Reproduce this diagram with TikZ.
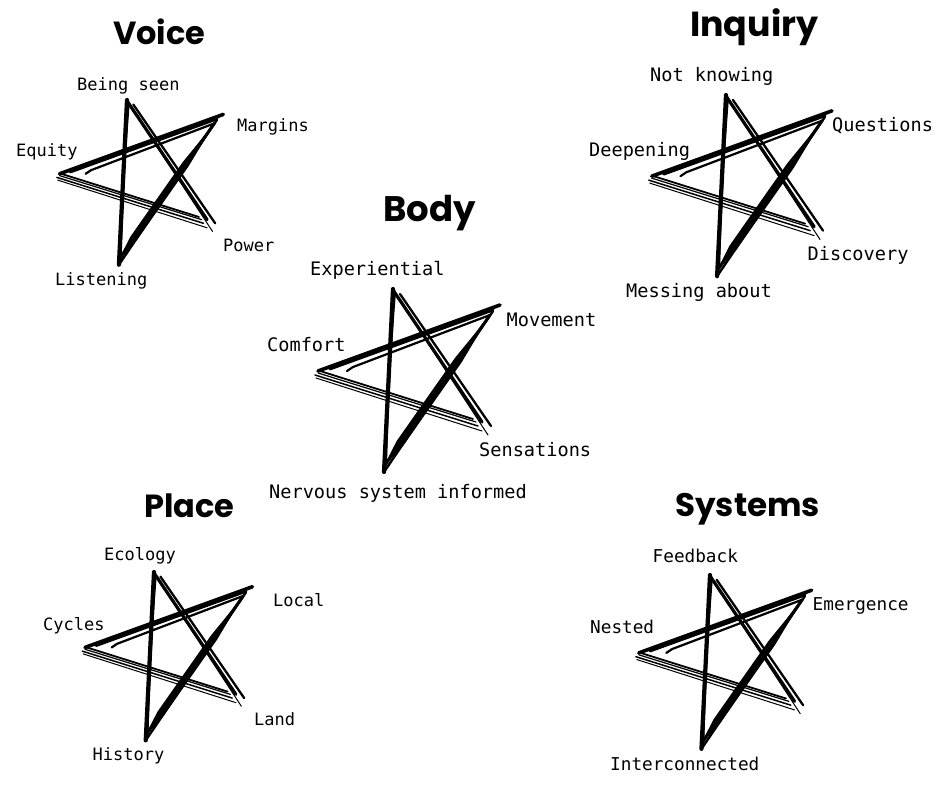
\documentclass[tikz,border=0pt]{standalone}
\usepackage{fontspec}
\setmonofont{DejaVu Sans Mono}
\newfontfamily\headfont{Poppins}
\usepackage{tikz}

\tikzset{
  heading/.style={font=\headfont\bfseries\fontsize{#1}{40}\selectfont, anchor=base west, inner sep=0pt},
  tag/.style={font=\ttfamily\fontsize{17}{20}\selectfont, anchor=base west, inner sep=0pt},
  bigtag/.style={font=\ttfamily\fontsize{18.6}{22}\selectfont, anchor=base west, inner sep=0pt},
  midtag/.style={font=\ttfamily\fontsize{17.7}{21}\selectfont, anchor=base west, inner sep=0pt},
  pics/sketchstar/.style={code={
    % the five tips
    \coordinate (-t) at (0,0);
    \coordinate (-r) at (107,16);
    \coordinate (-l) at (-78,86);
    \coordinate (-br) at (95,146);
    \coordinate (-b) at (-9,183);
    % down to the lower right (two strokes, a gap between)
    \draw[line width=3.2pt] (0,1) -- (89,133);
    \draw[line width=2.3pt] (7,5) -- (98,137);
    \draw[line width=1pt] (4,7) -- (-br);
    % thin strokes back to the left tip
    \draw[line width=1.5pt] (85,137) -- (-l);
    \draw[line width=1.2pt] (83,133) -- (-75,84);
    \draw[line width=1.8pt] (80,130) -- (-73,82);
    \draw[line width=1pt] (89,142) -- (-77,89);
    % across to the upper right
    \draw[line width=3.6pt] (-75,82) -- (-r);
    \draw[line width=2.8pt] (-63,80) -- (100,21);
    \draw[line width=2.2pt] (-46,82) -- (-40,78) -- (97,26);
    % heavy stroke down to the bottom
    \fill (97,26) -- (68.5,73.6) -- (10.2,156.7) -- (-9,177) -- (3.6,152.1) -- (61.9,69) -- cycle;
    \draw[line width=2.4pt] (100,22) -- (-b);
    \draw[line width=3pt] (97,26) -- (-8,176);
    % and back up to the top
    \draw[line width=4.2pt] (-b) -- (-t);
    \draw[line width=2pt] (-7,176) .. controls (-5,100) and (-1,40) .. (2,3);
  }}
}

\begin{document}
\begin{tikzpicture}[x=1pt,y=-1pt,line cap=round,line join=round]
\useasboundingbox[fill=white] (0,0) rectangle (940,788);

%% Voice
\draw(113,44) node[heading=32] (voice) {Voice};
\pic[scale=0.9] (vstar) at (127,100) {sketchstar};
\draw(77,90) node[tag] (seen) {Being seen};
\draw(237,131.5) node[tag] (margins) {Margins};
\draw(16,156.5) node[tag] (equity) {Equity};
\draw(223,251.5) node[tag] (power) {Power};
\draw(55,285) node[tag] (listening) {Listening};

%% Body
\draw(383,221.5) node[heading=35.5] (body) {Body};
\pic (bstar) at (393,289) {sketchstar};
\draw(310,275) node[bigtag] (experiential) {Experiential};
\draw(506.5,326) node[bigtag] (movement) {Movement};
\draw(267,351.5) node[bigtag] (comfort) {Comfort};
\draw(479,456.5) node[bigtag] (sensations) {Sensations};
\draw(269,498) node[bigtag] (nervous) {Nervous system informed};

%% Inquiry
\draw(690,36) node[heading=34.8] (inquiry) {Inquiry};
\pic[scale=0.99] (istar) at (726,95) {sketchstar};
\draw(650,81.5) node[bigtag] (notknowing) {Not knowing};
\draw(832,131.5) node[bigtag] (questions) {Questions};
\draw(589,156.5) node[bigtag] (deepening) {Deepening};
\draw(807.5,260.5) node[bigtag] (discovery) {Discovery};
\draw(626,297.5) node[bigtag] (messing) {Messing about};

%% Place
\draw(144,517.5) node[heading=32] (place) {Place};
\pic[scale=0.92] (pstar) at (154,572) {sketchstar};
\draw(104,560) node[tag] (ecology) {Ecology};
\draw(273,606.5) node[tag] (local) {Local};
\draw(43,630) node[tag] (cycles) {Cycles};
\draw(254,725.5) node[tag] (land) {Land};
\draw(92.5,760) node[tag] (history) {History};

%% Systems
\draw(675,516.5) node[heading=32.6] (systems) {Systems};
\pic[scale=0.95] (sstar) at (710,575) {sketchstar};
\draw(652.5,562.5) node[midtag] (feedback) {Feedback};
\draw(812.5,610) node[midtag] (emergence) {Emergence};
\draw(590,633.5) node[midtag] (nested) {Nested};
\draw(610,770) node[midtag] (interconnected) {Interconnected};
\end{tikzpicture}
\end{document}
